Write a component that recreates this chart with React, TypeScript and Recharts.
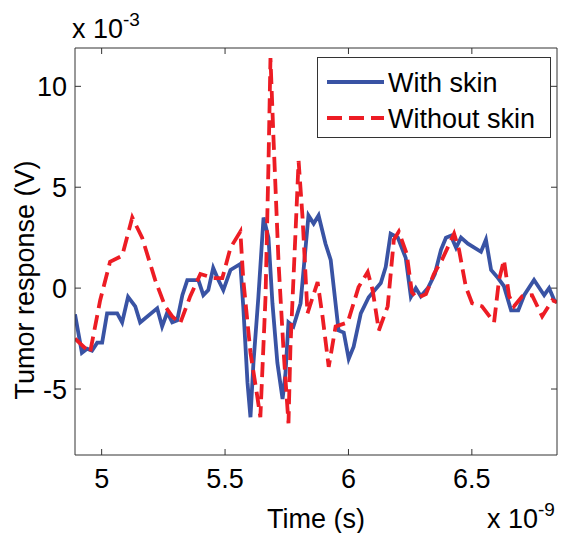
import React from 'react'
import { LineChart, Line, XAxis, YAxis, Label } from 'recharts'

// time axis in units of 1e-9 s, response in units of 1e-3 V
const withSkinTime = [
  4.892, 4.92, 4.941, 4.961, 4.982, 5.002, 5.022, 5.063, 5.083, 5.107, 5.136, 5.156, 5.225,
  5.245, 5.266, 5.286, 5.306, 5.327, 5.347, 5.392, 5.412, 5.432, 5.452, 5.473, 5.493, 5.522,
  5.562, 5.574, 5.591, 5.603, 5.615, 5.635, 5.656, 5.676, 5.692, 5.712, 5.733, 5.745, 5.757,
  5.777, 5.806, 5.838, 5.859, 5.879, 5.907, 5.928, 5.96, 5.981, 6.001, 6.021, 6.05, 6.082,
  6.131, 6.151, 6.171, 6.2, 6.232, 6.253, 6.273, 6.293, 6.322, 6.35, 6.375, 6.395, 6.415,
  6.436, 6.456, 6.484, 6.537, 6.557, 6.578, 6.606, 6.63, 6.659, 6.688, 6.712, 6.752, 6.793,
  6.813, 6.834, 6.845,
]
const withSkinValue = [
  -1.3, -3.2, -3.0, -3.1, -2.7, -2.7, -1.25, -1.25, -1.7, -0.43, -0.9, -1.7, -1.0,
  -1.9, -1.2, -1.7, -1.6, -0.35, 0.4, 0.4, -0.35, -0.1, 1.0, 0.4, -0.1, 0.9,
  1.2, -0.95, -4.7, -6.4, -3.7, -0.45, 3.5, 2.5, -0.75, -3.7, -5.5, -4.2, -1.7,
  -1.9, -0.75, 3.6, 3.2, 3.6, 2.2, 1.4, -2.1, -2.2, -3.5, -2.9, -1.25, -0.45,
  0.25, 1.05, 2.7, 2.5, 1.5, -0.43, 0, -0.4, 0, 0.7, 1.9, 2.5, 2.6,
  2.0, 2.5, 2.2, 1.8, 2.4, 0.9, 0.5, 0.1, -1.1, -1.1, -0.35, 0.4, -0.35,
  0, -0.6, -0.7,
]

const withoutSkinTime = [
  4.892, 4.953, 4.994, 5.034, 5.083, 5.124, 5.164, 5.217, 5.257, 5.286, 5.318, 5.359, 5.4,
  5.453, 5.489, 5.522, 5.562, 5.574, 5.603, 5.631, 5.643, 5.664, 5.676, 5.684, 5.696, 5.717,
  5.737, 5.757, 5.765, 5.786, 5.798, 5.814, 5.834, 5.855, 5.875, 5.895, 5.92, 5.948, 5.997,
  6.041, 6.078, 6.098, 6.123, 6.159, 6.184, 6.204, 6.236, 6.257, 6.277, 6.314, 6.346, 6.379,
  6.428, 6.448, 6.476, 6.501, 6.541, 6.59, 6.61, 6.63, 6.651, 6.671, 6.704, 6.744, 6.785,
  6.826, 6.845,
]
const withoutSkinValue = [
  -2.5, -3.2, -0.6, 1.3, 1.6, 3.5, 2.5, 0.4, -0.9, -1.4, -1.75, -0.4, 0.7,
  0.5, 0.5, 2.0, 2.8, 0.4, -3.2, -5.4, -6.4, -0.45, 6.2, 11.4, 7.5, 1.2,
  -3.1, -6.7, -2.9, 2.9, 6.3, 3.5, -1.25, -0.45, 0.3, -1.4, -3.9, -1.9, -1.7,
  0.05, 0.8, -0.1, -2.1, -0.9, 2.4, 2.8, 1.7, -0.2, -0.5, -0.3, 0.7, 1.4,
  2.7, 1.9, 0.05, -0.75, -0.9, -1.7, 0.4, 1.4, -0.4, -0.9, -0.4, -0.35, -1.4,
  -0.6, -0.7,
]

const xTicks = [5, 5.5, 6, 6.5]
const yTicks = [-5, 0, 5, 10]
const xDomain = [4.892, 6.845]
const yDomain = [-8.27, 11.9]

const BLUE = '#3953a4'
const RED = '#ed1c24'
const FRAME = '#333333'
const FONT = '"Liberation Sans", Arial, Helvetica, sans-serif'
const FONT_SIZE = 27
const TICK_LEN = 6
const LINE_W = 3.8
const DASH = '15 7'

const withSkin = withSkinTime.map((t, i) => ({ t, v: withSkinValue[i] }))
const withoutSkin = withoutSkinTime.map((t, i) => ({ t, v: withoutSkinValue[i] }))

const BottomTick = (props: any) => {
  const { x, y, payload } = props
  return (
    <g>
      <line x1={x} y1={y} x2={x} y2={y - TICK_LEN} stroke={FRAME} />
      <text x={x} y={y + 33} textAnchor="middle" fontSize={FONT_SIZE} fontFamily={FONT} fill="#000">
        {payload.value}
      </text>
    </g>
  )
}

const LeftTick = (props: any) => {
  const { x, y, payload } = props
  return (
    <g>
      <line x1={x} y1={y} x2={x + TICK_LEN} y2={y} stroke={FRAME} />
      <text x={x - 8} y={y + 10} textAnchor="end" fontSize={FONT_SIZE} fontFamily={FONT} fill="#000">
        {payload.value}
      </text>
    </g>
  )
}

const TopTick = (props: any) => {
  const { x, y } = props
  return <line x1={x} y1={y} x2={x} y2={y + TICK_LEN} stroke={FRAME} />
}

const RightTick = (props: any) => {
  const { x, y } = props
  return <line x1={x} y1={y} x2={x - TICK_LEN} y2={y} stroke={FRAME} />
}

export default function App() {
  return (
    <div style={{ position: 'absolute', left: 0, top: 0, width: 564, height: 533, background: '#fff' }}>
      <LineChart width={564} height={533} margin={{ top: 47, right: 6, left: 15, bottom: 38 }}>
        <XAxis
          dataKey="t"
          type="number"
          domain={xDomain}
          ticks={xTicks}
          allowDataOverflow
          height={40}
          tickSize={0}
          tickMargin={0}
          tickLine={false}
          tick={<BottomTick />}
          axisLine={{ stroke: FRAME }}
        >
          <Label
            content={({ viewBox }: any) => (
              <text
                x={viewBox.x + viewBox.width / 2}
                y={viewBox.y + 73}
                textAnchor="middle"
                fontSize={FONT_SIZE}
                fontFamily={FONT}
                fill="#000"
              >
                Time (s)
              </text>
            )}
          />
        </XAxis>
        <XAxis
          xAxisId="top"
          orientation="top"
          dataKey="t"
          type="number"
          domain={xDomain}
          ticks={xTicks}
          allowDataOverflow
          height={1}
          tickSize={0}
          tickMargin={0}
          tickLine={false}
          tick={<TopTick />}
          axisLine={{ stroke: FRAME }}
        />
        <YAxis
          type="number"
          domain={yDomain}
          ticks={yTicks}
          allowDataOverflow
          width={60}
          tickSize={0}
          tickMargin={0}
          tickLine={false}
          tick={<LeftTick />}
          axisLine={{ stroke: FRAME }}
        >
          <Label
            content={() => (
              <text
                x={34}
                y={280}
                transform="rotate(-90 34 280)"
                textAnchor="middle"
                fontSize={FONT_SIZE}
                fontFamily={FONT}
                fill="#000"
              >
                Tumor response (V)
              </text>
            )}
          />
        </YAxis>
        <YAxis
          yAxisId="right"
          orientation="right"
          type="number"
          domain={yDomain}
          ticks={yTicks}
          allowDataOverflow
          width={1}
          tickSize={0}
          tickMargin={0}
          tickLine={false}
          tick={<RightTick />}
          axisLine={{ stroke: FRAME }}
        />
        <Line
          data={withSkin}
          dataKey="v"
          type="linear"
          stroke={BLUE}
          strokeWidth={LINE_W}
          dot={false}
          isAnimationActive={false}
        />
        <Line
          data={withoutSkin}
          dataKey="v"
          type="linear"
          stroke={RED}
          strokeWidth={LINE_W}
          strokeDasharray={DASH}
          dot={false}
          isAnimationActive={false}
        />
      </LineChart>

      {/* axis multipliers */}
      <svg
        width={564}
        height={533}
        style={{ position: 'absolute', left: 0, top: 0, pointerEvents: 'none' }}
        fontFamily={FONT}
      >
        <text x={72} y={38} fontSize={FONT_SIZE} fill="#000">
          x 10<tspan dy={-12} fontSize={19}>-3</tspan>
        </text>
        <text x={487} y={528} fontSize={FONT_SIZE} fill="#000">
          x 10<tspan dy={-12} fontSize={19}>-9</tspan>
        </text>
      </svg>

      {/* legend */}
      <div
        style={{
          position: 'absolute',
          left: 317,
          top: 57,
          width: 234,
          height: 81,
          boxSizing: 'border-box',
          border: `1px solid ${FRAME}`,
          background: '#fff',
          fontFamily: FONT,
          fontSize: FONT_SIZE,
          color: '#000',
        }}
      >
        <svg width={232} height={79}>
          <line x1={9} y1={24} x2={66} y2={24} stroke={BLUE} strokeWidth={LINE_W} />
          <text x={70} y={34} fontSize={FONT_SIZE} fontFamily={FONT}>
            With skin
          </text>
          <line x1={9} y1={60} x2={66} y2={60} stroke={RED} strokeWidth={LINE_W} strokeDasharray={DASH} />
          <text x={70} y={70} fontSize={FONT_SIZE} fontFamily={FONT}>
            Without skin
          </text>
        </svg>
      </div>
    </div>
  )
}
